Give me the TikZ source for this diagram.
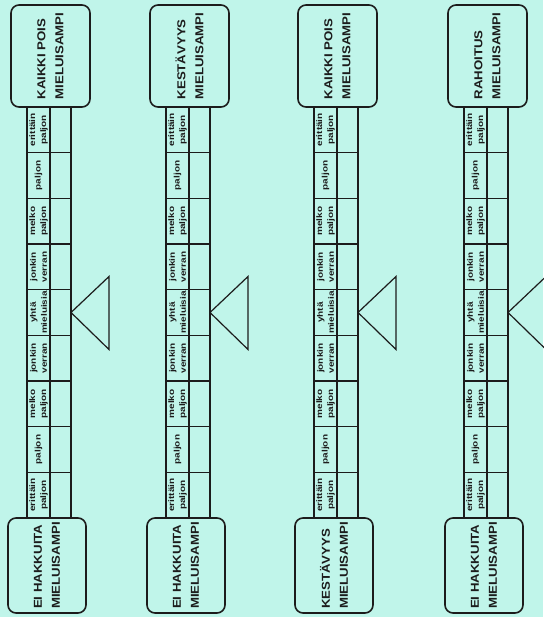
\documentclass[tikz,border=0pt]{standalone}
\usepackage{fontspec}
\setmainfont{Liberation Sans}
\newfontfamily\endfont[FakeStretch=1.15]{Liberation Sans}
\newfontfamily\cellfont[FakeStretch=1.25]{Liberation Sans}
\usetikzlibrary{calc}
\definecolor{paperc}{HTML}{C0F5EA}
\definecolor{inkc}{HTML}{1C1C1C}

\begin{document}
\begin{tikzpicture}[x=1pt, y=-1pt, line width=1.3pt, inkc,
    endbox/.style={draw, rounded corners=8pt, line width=1.6pt, rotate=90,
      align=left, inner sep=0pt, font=\endfont\bfseries\fontsize{11.5}{18}\selectfont},
    celltext/.style={rotate=90, align=center, inner sep=0pt,
      font=\cellfont\bfseries\fontsize{8}{11}\selectfont}]
  % paper
  \fill[paperc] (0,0) rectangle (543,617);
  \useasboundingbox (0,0) rectangle (543,617);
  \foreach \x/\toptext/\bottext/\n in {27/{KAIKKI POIS}/{EI HAKKUITA}/1,
      166/{KESTÄVYYS}/{EI HAKKUITA}/2, 314/{KAIKKI POIS}/{KESTÄVYYS}/3,
      464/{RAHOITUS}/{EI HAKKUITA}/4}{
    % end boxes
    \node[endbox, minimum width=102pt, minimum height=79pt]
      (top\n) at (\x+23.5,56) {\toptext\\MIELUISAMPI};
    \node[endbox, minimum width=95pt, minimum height=78pt]
      (bot\n) at (\x+20,565.5) {\bottext\\MIELUISAMPI};
    % scale
    \draw (\x,107) rectangle (\x+44,518);
    \draw (\x+23,107) -- (\x+23,518);
    \foreach \k in {1,...,8}
      \draw (\x,107+45.667*\k) -- ++(44,0);
    \foreach \r/\lab in {1/{erittäin\\paljon}, 2/{paljon}, 3/{melko\\paljon},
        4/{jonkin\\verran}, 5/{yhtä\\mieluisia}, 6/{jonkin\\verran},
        7/{melko\\paljon}, 8/{paljon}, 9/{erittäin\\paljon}}
      \node[celltext] (cell\n-\r) at (\x+11.5,107+45.667*\r-22.83) {\lab};
    % pointer
    \coordinate (tip\n) at (\x+44,312.5);
    \draw[line width=1.2pt, line join=miter] (tip\n) -- ++(38,-36) -- ++(0,73) -- cycle;
  }
\end{tikzpicture}
\end{document}
